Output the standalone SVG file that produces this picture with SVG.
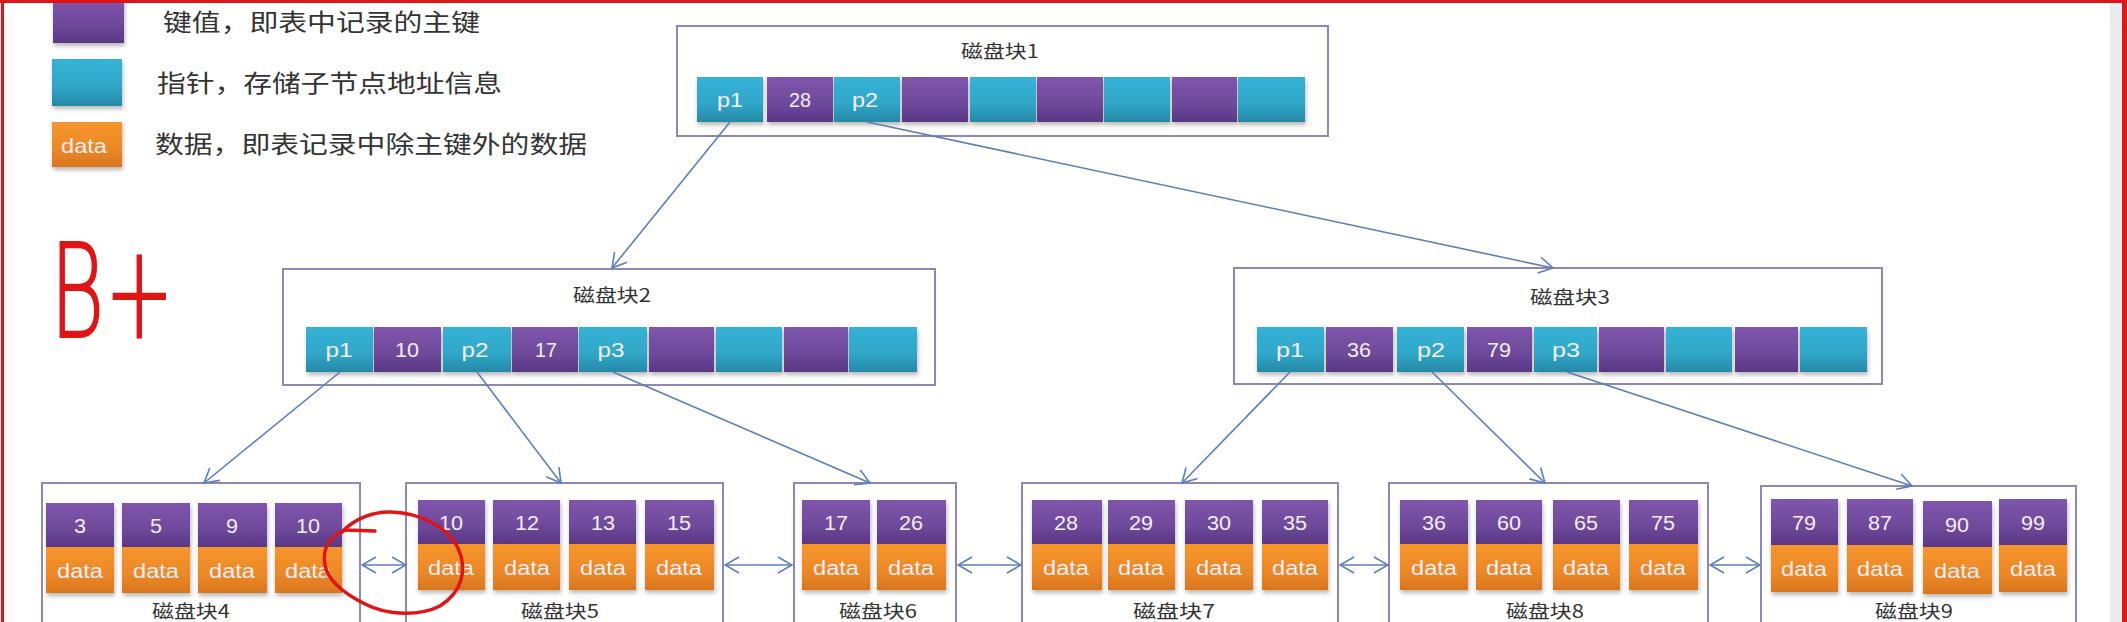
<svg xmlns="http://www.w3.org/2000/svg" width="2127" height="622" viewBox="0 0 2127 622">
<style>
.box{fill:#ffffff;stroke:#8E88B6;stroke-width:2}
.cy{fill:url(#gCy)}
.pu{fill:url(#gPu)}
.or{fill:url(#gOr)}
.lbl{font-family:"Liberation Sans",Arial,sans-serif;font-size:20px;fill:#F3EEF8;text-anchor:middle}
.ttl{font-family:"Noto Sans CJK SC","Liberation Sans",sans-serif;font-size:18px;fill:#333333;text-anchor:middle}
.leg{font-family:"Noto Sans CJK SC","Liberation Sans",sans-serif;font-size:24px;fill:#333333}
.cn{fill:none;stroke:#5B7FB8;stroke-width:1.6}
.red{fill:none;stroke:#E01414;stroke-width:3.5;stroke-linecap:round;stroke-linejoin:round}
</style>
<defs>
<linearGradient id="gCy" x1="0" y1="0" x2="0" y2="1"><stop offset="0" stop-color="#35B3D7"/><stop offset="0.6" stop-color="#2FA6C8"/><stop offset="1" stop-color="#2688A6"/></linearGradient>
<linearGradient id="gPu" x1="0" y1="0" x2="0" y2="1"><stop offset="0" stop-color="#7F56AD"/><stop offset="0.6" stop-color="#6E499A"/><stop offset="1" stop-color="#593784"/></linearGradient>
<linearGradient id="gOr" x1="0" y1="0" x2="0" y2="1"><stop offset="0" stop-color="#F6962C"/><stop offset="0.6" stop-color="#EC8826"/><stop offset="1" stop-color="#D9761E"/></linearGradient>
<filter id="sh" x="-10%" y="-10%" width="120%" height="130%"><feDropShadow dx="1" dy="3" stdDeviation="2" flood-color="#000000" flood-opacity="0.28"/></filter>
<marker id="arr" viewBox="0 0 16 18" refX="15" refY="9" markerWidth="16" markerHeight="18" markerUnits="userSpaceOnUse" orient="auto-start-reverse"><path d="M1,1 L15,9 L1,17" fill="none" stroke="#5B7FB8" stroke-width="1.6"/></marker>
</defs>
<rect x="0" y="0" width="2127" height="622" fill="#ffffff"/>
<rect x="2110" y="3" width="12" height="619" fill="#E8ECEE"/>

<g id="legend">
<g filter="url(#sh)">
<rect class="pu" x="53" y="-4" width="71" height="47"/>
<rect class="cy" x="52" y="59" width="70" height="47"/>
<rect class="or" x="52" y="122" width="70" height="45"/>
</g>
<text class="lbl" x="84" y="153" textLength="46" lengthAdjust="spacingAndGlyphs">data</text>
<text class="leg" x="163" y="31" textLength="317" lengthAdjust="spacingAndGlyphs">键值，即表中记录的主键</text>
<text class="leg" x="157" y="92" textLength="345" lengthAdjust="spacingAndGlyphs">指针，存储子节点地址信息</text>
<text class="leg" x="155" y="153" textLength="432" lengthAdjust="spacingAndGlyphs">数据，即表记录中除主键外的数据</text>
</g>

<g id="node1">
<rect class="box" x="677" y="26" width="651" height="110"/>
<text class="ttl" x="1000" y="58" textLength="78" lengthAdjust="spacingAndGlyphs">磁盘块1</text>
<g filter="url(#sh)">
<rect class="cy" x="697" y="77" width="66" height="45"/>
<rect class="pu" x="767" y="77" width="66" height="45"/>
<rect class="cy" x="834" y="77" width="66" height="45"/>
<rect class="pu" x="902" y="77" width="66" height="45"/>
<rect class="cy" x="970" y="77" width="66" height="45"/>
<rect class="pu" x="1037" y="77" width="66" height="45"/>
<rect class="cy" x="1104" y="77" width="66" height="45"/>
<rect class="pu" x="1172" y="77" width="65" height="45"/>
<rect class="cy" x="1238" y="77" width="67" height="45"/>
</g>
<text class="lbl" x="730" y="107" textLength="26" lengthAdjust="spacingAndGlyphs">p1</text>
<text class="lbl" x="800" y="107" textLength="22" lengthAdjust="spacingAndGlyphs">28</text>
<text class="lbl" x="865" y="107" textLength="26" lengthAdjust="spacingAndGlyphs">p2</text>
</g>

<g id="node2">
<rect class="box" x="283" y="269" width="652" height="116"/>
<text class="ttl" x="612" y="302" textLength="78" lengthAdjust="spacingAndGlyphs">磁盘块2</text>
<g filter="url(#sh)">
<rect class="cy" x="306" y="327" width="67" height="45"/>
<rect class="pu" x="374" y="327" width="67" height="45"/>
<rect class="cy" x="443" y="327" width="68" height="45"/>
<rect class="pu" x="512" y="327" width="66" height="45"/>
<rect class="cy" x="579" y="327" width="68" height="45"/>
<rect class="pu" x="649" y="327" width="65" height="45"/>
<rect class="cy" x="716" y="327" width="66" height="45"/>
<rect class="pu" x="784" y="327" width="64" height="45"/>
<rect class="cy" x="849" y="327" width="68" height="45"/>
</g>
<text class="lbl" x="339" y="357" textLength="27" lengthAdjust="spacingAndGlyphs">p1</text>
<text class="lbl" x="407" y="357" textLength="24" lengthAdjust="spacingAndGlyphs">10</text>
<text class="lbl" x="475" y="357" textLength="27" lengthAdjust="spacingAndGlyphs">p2</text>
<text class="lbl" x="546" y="357" textLength="22" lengthAdjust="spacingAndGlyphs">17</text>
<text class="lbl" x="611" y="357" textLength="27" lengthAdjust="spacingAndGlyphs">p3</text>
</g>

<g id="node3">
<rect class="box" x="1234" y="268" width="648" height="116"/>
<text class="ttl" x="1570" y="304" textLength="80" lengthAdjust="spacingAndGlyphs">磁盘块3</text>
<g filter="url(#sh)">
<rect class="cy" x="1257" y="327" width="67" height="45"/>
<rect class="pu" x="1326" y="327" width="67" height="45"/>
<rect class="cy" x="1397" y="327" width="67" height="45"/>
<rect class="pu" x="1467" y="327" width="65" height="45"/>
<rect class="cy" x="1534" y="327" width="63" height="45"/>
<rect class="pu" x="1599" y="327" width="65" height="45"/>
<rect class="cy" x="1666" y="327" width="66" height="45"/>
<rect class="pu" x="1735" y="327" width="63" height="45"/>
<rect class="cy" x="1800" y="327" width="67" height="45"/>
</g>
<text class="lbl" x="1290" y="357" textLength="28" lengthAdjust="spacingAndGlyphs">p1</text>
<text class="lbl" x="1359" y="357" textLength="24" lengthAdjust="spacingAndGlyphs">36</text>
<text class="lbl" x="1431" y="357" textLength="28" lengthAdjust="spacingAndGlyphs">p2</text>
<text class="lbl" x="1499" y="357" textLength="24" lengthAdjust="spacingAndGlyphs">79</text>
<text class="lbl" x="1566" y="357" textLength="28" lengthAdjust="spacingAndGlyphs">p3</text>
</g>

<g id="node4">
<rect class="box" x="42" y="483" width="318" height="170"/>
<g filter="url(#sh)">
<rect class="pu" x="46" y="503" width="68" height="44"/><rect class="or" x="46" y="547" width="68" height="46"/>
<rect class="pu" x="122" y="503" width="68" height="44"/><rect class="or" x="122" y="547" width="68" height="46"/>
<rect class="pu" x="198" y="503" width="69" height="44"/><rect class="or" x="198" y="547" width="69" height="46"/>
<rect class="pu" x="275" y="503" width="67" height="44"/><rect class="or" x="275" y="547" width="67" height="46"/>
</g>
<text class="lbl" x="80" y="533" textLength="12" lengthAdjust="spacingAndGlyphs">3</text>
<text class="lbl" x="156" y="533" textLength="12" lengthAdjust="spacingAndGlyphs">5</text>
<text class="lbl" x="232" y="533" textLength="12" lengthAdjust="spacingAndGlyphs">9</text>
<text class="lbl" x="308" y="533" textLength="24" lengthAdjust="spacingAndGlyphs">10</text>
<text class="lbl" x="80" y="578" textLength="46" lengthAdjust="spacingAndGlyphs">data</text>
<text class="lbl" x="156" y="578" textLength="46" lengthAdjust="spacingAndGlyphs">data</text>
<text class="lbl" x="232" y="578" textLength="46" lengthAdjust="spacingAndGlyphs">data</text>
<text class="lbl" x="308" y="578" textLength="46" lengthAdjust="spacingAndGlyphs">data</text>
<text class="ttl" x="191" y="618" textLength="78" lengthAdjust="spacingAndGlyphs">磁盘块4</text>
</g>

<g id="node5">
<rect class="box" x="406" y="483" width="317" height="170"/>
<g filter="url(#sh)">
<rect class="pu" x="418" y="500" width="67" height="44"/><rect class="or" x="418" y="544" width="67" height="46"/>
<rect class="pu" x="493" y="500" width="67" height="44"/><rect class="or" x="493" y="544" width="67" height="46"/>
<rect class="pu" x="569" y="500" width="67" height="44"/><rect class="or" x="569" y="544" width="67" height="46"/>
<rect class="pu" x="645" y="500" width="69" height="44"/><rect class="or" x="645" y="544" width="69" height="46"/>
</g>
<text class="lbl" x="451" y="530" textLength="24" lengthAdjust="spacingAndGlyphs">10</text>
<text class="lbl" x="527" y="530" textLength="24" lengthAdjust="spacingAndGlyphs">12</text>
<text class="lbl" x="603" y="530" textLength="24" lengthAdjust="spacingAndGlyphs">13</text>
<text class="lbl" x="679" y="530" textLength="24" lengthAdjust="spacingAndGlyphs">15</text>
<text class="lbl" x="451" y="575" textLength="46" lengthAdjust="spacingAndGlyphs">data</text>
<text class="lbl" x="527" y="575" textLength="46" lengthAdjust="spacingAndGlyphs">data</text>
<text class="lbl" x="603" y="575" textLength="46" lengthAdjust="spacingAndGlyphs">data</text>
<text class="lbl" x="679" y="575" textLength="46" lengthAdjust="spacingAndGlyphs">data</text>
<text class="ttl" x="560" y="618" textLength="78" lengthAdjust="spacingAndGlyphs">磁盘块5</text>
</g>

<g id="node6">
<rect class="box" x="794" y="483" width="162" height="170"/>
<g filter="url(#sh)">
<rect class="pu" x="802" y="500" width="68" height="44"/><rect class="or" x="802" y="544" width="68" height="46"/>
<rect class="pu" x="877" y="500" width="69" height="44"/><rect class="or" x="877" y="544" width="69" height="46"/>
</g>
<text class="lbl" x="836" y="530" textLength="24" lengthAdjust="spacingAndGlyphs">17</text>
<text class="lbl" x="911" y="530" textLength="24" lengthAdjust="spacingAndGlyphs">26</text>
<text class="lbl" x="836" y="575" textLength="46" lengthAdjust="spacingAndGlyphs">data</text>
<text class="lbl" x="911" y="575" textLength="46" lengthAdjust="spacingAndGlyphs">data</text>
<text class="ttl" x="878" y="618" textLength="78" lengthAdjust="spacingAndGlyphs">磁盘块6</text>
</g>

<g id="node7">
<rect class="box" x="1022" y="483" width="316" height="170"/>
<g filter="url(#sh)">
<rect class="pu" x="1032" y="500" width="70" height="44"/><rect class="or" x="1032" y="544" width="70" height="46"/>
<rect class="pu" x="1108" y="500" width="67" height="44"/><rect class="or" x="1108" y="544" width="67" height="46"/>
<rect class="pu" x="1185" y="500" width="68" height="44"/><rect class="or" x="1185" y="544" width="68" height="46"/>
<rect class="pu" x="1262" y="500" width="66" height="44"/><rect class="or" x="1262" y="544" width="66" height="46"/>
</g>
<text class="lbl" x="1066" y="530" textLength="24" lengthAdjust="spacingAndGlyphs">28</text>
<text class="lbl" x="1141" y="530" textLength="24" lengthAdjust="spacingAndGlyphs">29</text>
<text class="lbl" x="1219" y="530" textLength="24" lengthAdjust="spacingAndGlyphs">30</text>
<text class="lbl" x="1295" y="530" textLength="24" lengthAdjust="spacingAndGlyphs">35</text>
<text class="lbl" x="1066" y="575" textLength="46" lengthAdjust="spacingAndGlyphs">data</text>
<text class="lbl" x="1141" y="575" textLength="46" lengthAdjust="spacingAndGlyphs">data</text>
<text class="lbl" x="1219" y="575" textLength="46" lengthAdjust="spacingAndGlyphs">data</text>
<text class="lbl" x="1295" y="575" textLength="46" lengthAdjust="spacingAndGlyphs">data</text>
<text class="ttl" x="1174" y="618" textLength="82" lengthAdjust="spacingAndGlyphs">磁盘块7</text>
</g>

<g id="node8">
<rect class="box" x="1389" y="483" width="319" height="170"/>
<g filter="url(#sh)">
<rect class="pu" x="1400" y="500" width="68" height="44"/><rect class="or" x="1400" y="544" width="68" height="46"/>
<rect class="pu" x="1476" y="500" width="66" height="44"/><rect class="or" x="1476" y="544" width="66" height="46"/>
<rect class="pu" x="1553" y="500" width="67" height="44"/><rect class="or" x="1553" y="544" width="67" height="46"/>
<rect class="pu" x="1629" y="500" width="69" height="44"/><rect class="or" x="1629" y="544" width="69" height="46"/>
</g>
<text class="lbl" x="1434" y="530" textLength="24" lengthAdjust="spacingAndGlyphs">36</text>
<text class="lbl" x="1509" y="530" textLength="24" lengthAdjust="spacingAndGlyphs">60</text>
<text class="lbl" x="1586" y="530" textLength="24" lengthAdjust="spacingAndGlyphs">65</text>
<text class="lbl" x="1663" y="530" textLength="24" lengthAdjust="spacingAndGlyphs">75</text>
<text class="lbl" x="1434" y="575" textLength="46" lengthAdjust="spacingAndGlyphs">data</text>
<text class="lbl" x="1509" y="575" textLength="46" lengthAdjust="spacingAndGlyphs">data</text>
<text class="lbl" x="1586" y="575" textLength="46" lengthAdjust="spacingAndGlyphs">data</text>
<text class="lbl" x="1663" y="575" textLength="46" lengthAdjust="spacingAndGlyphs">data</text>
<text class="ttl" x="1545" y="618" textLength="78" lengthAdjust="spacingAndGlyphs">磁盘块8</text>
</g>

<g id="node9">
<rect class="box" x="1761" y="486" width="315" height="170"/>
<g filter="url(#sh)">
<rect class="pu" x="1771" y="499" width="67" height="46"/><rect class="or" x="1771" y="545" width="67" height="47"/>
<rect class="pu" x="1847" y="499" width="66" height="46"/><rect class="or" x="1847" y="545" width="66" height="47"/>
<rect class="pu" x="1923" y="501" width="69" height="46"/><rect class="or" x="1923" y="547" width="69" height="47"/>
<rect class="pu" x="1999" y="499" width="68" height="46"/><rect class="or" x="1999" y="545" width="68" height="47"/>
</g>
<text class="lbl" x="1804" y="530" textLength="24" lengthAdjust="spacingAndGlyphs">79</text>
<text class="lbl" x="1880" y="530" textLength="24" lengthAdjust="spacingAndGlyphs">87</text>
<text class="lbl" x="1957" y="532" textLength="24" lengthAdjust="spacingAndGlyphs">90</text>
<text class="lbl" x="2033" y="530" textLength="24" lengthAdjust="spacingAndGlyphs">99</text>
<text class="lbl" x="1804" y="576" textLength="46" lengthAdjust="spacingAndGlyphs">data</text>
<text class="lbl" x="1880" y="576" textLength="46" lengthAdjust="spacingAndGlyphs">data</text>
<text class="lbl" x="1957" y="578" textLength="46" lengthAdjust="spacingAndGlyphs">data</text>
<text class="lbl" x="2033" y="576" textLength="46" lengthAdjust="spacingAndGlyphs">data</text>
<text class="ttl" x="1914" y="618" textLength="78" lengthAdjust="spacingAndGlyphs">磁盘块9</text>
</g>

<g id="connectors">
<line class="cn" x1="730" y1="122" x2="612" y2="268" marker-end="url(#arr)"/>
<line class="cn" x1="867" y1="122" x2="1553" y2="268" marker-end="url(#arr)"/>
<line class="cn" x1="340" y1="372" x2="204" y2="483" marker-end="url(#arr)"/>
<line class="cn" x1="477" y1="372" x2="561" y2="483" marker-end="url(#arr)"/>
<line class="cn" x1="613" y1="372" x2="870" y2="483" marker-end="url(#arr)"/>
<line class="cn" x1="1290" y1="372" x2="1182" y2="483" marker-end="url(#arr)"/>
<line class="cn" x1="1432" y1="372" x2="1545" y2="483" marker-end="url(#arr)"/>
<line class="cn" x1="1567" y1="372" x2="1912" y2="486" marker-end="url(#arr)"/>
<line class="cn" x1="362" y1="565" x2="406" y2="565" marker-start="url(#arr)" marker-end="url(#arr)"/>
<line class="cn" x1="725" y1="565" x2="792" y2="565" marker-start="url(#arr)" marker-end="url(#arr)"/>
<line class="cn" x1="958" y1="565" x2="1021" y2="565" marker-start="url(#arr)" marker-end="url(#arr)"/>
<line class="cn" x1="1340" y1="565" x2="1388" y2="565" marker-start="url(#arr)" marker-end="url(#arr)"/>
<line class="cn" x1="1710" y1="565" x2="1760" y2="565" marker-start="url(#arr)" marker-end="url(#arr)"/>
</g>

<g id="annotations">
<text x="50" y="337" font-family="DejaVu Sans, sans-serif" font-weight="200" font-size="130" fill="#E01414" stroke="#E01414" stroke-width="2" textLength="124" lengthAdjust="spacingAndGlyphs">B+</text>
<path class="red" d="M342,532 C355,518 375,511 392,512 C420,513 448,527 458,548 C468,570 462,592 440,606 C420,616 388,616 365,604 C345,594 328,582 325,565 C322,548 330,536 345,530"/>
<path class="red" d="M345,530 L375,531"/>
<line x1="0" y1="1.5" x2="2127" y2="1.5" stroke="#E01414" stroke-width="3"/>
<line x1="2.5" y1="0" x2="2.5" y2="622" stroke="#E01414" stroke-width="3"/>
<line x1="2124.5" y1="0" x2="2124.5" y2="622" stroke="#D81A1A" stroke-width="5"/>
</g>
</svg>
